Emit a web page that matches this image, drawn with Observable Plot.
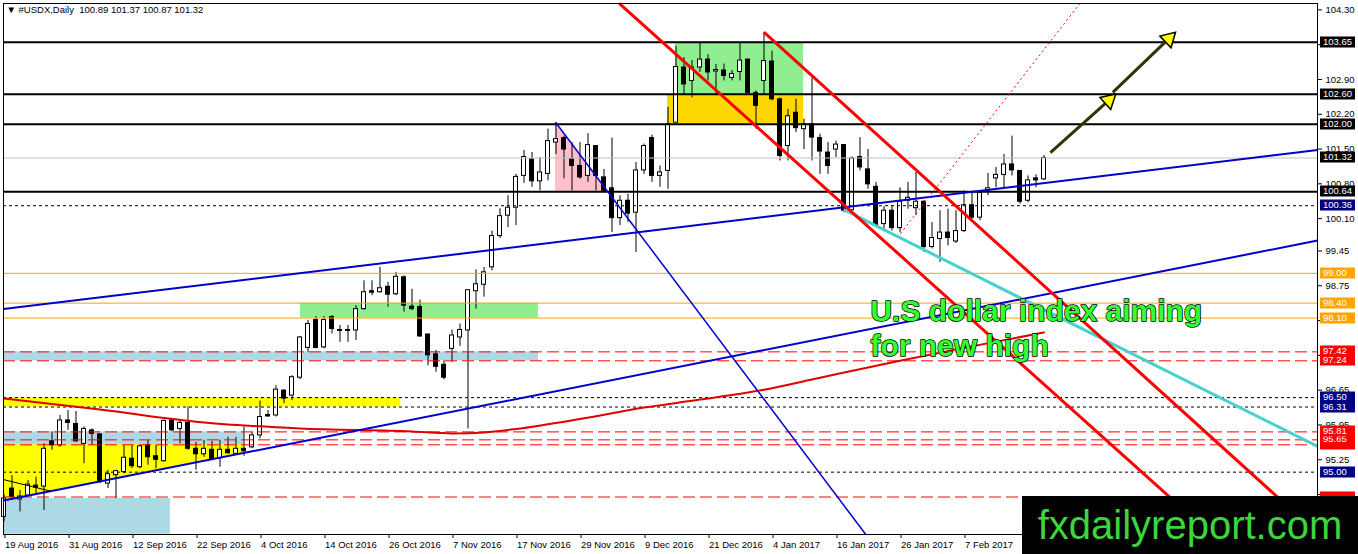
<!DOCTYPE html>
<html><head><meta charset="utf-8">
<script src="https://cdn.jsdelivr.net/npm/d3@7"></script>
<script src="https://cdn.jsdelivr.net/npm/@observablehq/plot@0.6"></script>
<style>
html,body{margin:0;padding:0;background:#fff;}
#wrap{position:relative;width:1358px;height:554px;overflow:hidden;background:#fff;}
#wm{position:absolute;left:1022px;top:496px;width:336px;height:58px;background:#000;color:#3cd63c;font:40px "Liberation Sans",Arial,sans-serif;line-height:58px;text-align:center;}
</style></head><body><div id="wrap"><div id="chart"></div><div id="wm">fxdailyreport.com</div></div>
<script>
// ---- candles (bar index 0 = 19 Aug 2016) ----
const opens = [94.10,94.67,94.45,94.53,94.73,94.71,95.62,95.54,96.04,95.97,95.57,95.84,95.76,94.77,94.94,95.00,95.27,95.10,95.54,95.32,95.22,96.04,95.87,95.99,95.47,95.36,95.45,95.28,95.45,95.37,95.47,95.50,95.74,96.15,96.14,96.64,96.54,96.90,97.50,98.06,97.51,98.12,97.86,97.84,97.85,98.28,98.64,98.62,98.73,98.58,98.92,98.33,98.32,97.77,97.37,97.16,97.48,97.71,97.85,98.64,98.77,99.12,99.75,100.16,100.32,100.96,101.29,100.85,101.00,101.63,101.72,101.29,101.16,100.96,101.56,100.93,100.71,100.11,100.46,100.22,101.07,101.72,100.96,101.06,102.03,103.14,102.87,103.14,103.30,103.06,103.08,102.93,103.05,103.30,102.63,102.87,103.26,102.50,101.56,102.23,101.90,102.00,101.72,101.43,101.49,101.58,100.27,101.34,101.09,100.74,99.99,100.26,99.91,100.46,100.31,100.44,99.53,99.69,99.82,99.64,99.85,100.37,100.12,100.66,100.91,100.98,101.19,101.06,100.46,100.91,100.89];
const highs = [94.55,94.93,94.63,94.83,94.90,95.57,95.81,96.14,96.24,96.22,95.91,95.87,95.77,95.04,95.04,95.54,95.54,95.54,95.64,95.54,96.05,96.05,96.05,96.31,95.60,95.64,95.62,95.64,95.70,95.70,95.91,95.80,96.43,96.24,96.74,96.66,96.94,97.73,98.05,98.13,98.13,98.15,97.95,97.95,98.35,98.85,98.85,99.12,98.82,99.02,98.95,98.68,98.46,97.77,97.45,97.24,97.86,97.98,98.66,99.07,99.12,99.85,100.30,100.56,100.99,101.47,101.43,101.33,101.90,102.03,101.76,101.63,101.63,101.81,101.56,101.09,101.72,100.56,100.59,101.23,101.60,101.78,101.16,102.34,103.57,103.34,103.28,103.64,103.40,103.20,103.21,103.08,103.62,103.30,102.67,103.84,103.47,102.53,102.30,102.50,102.10,102.93,101.80,101.63,101.66,101.58,101.34,101.73,101.49,100.83,100.34,100.36,100.72,100.83,101.03,100.46,100.02,100.26,100.29,100.26,100.66,100.62,100.66,101.01,101.13,101.39,101.76,101.06,100.96,100.98,101.37];
const lows = [94.00,94.43,94.20,94.50,94.57,94.23,95.44,95.50,95.84,95.60,95.17,95.54,94.77,94.67,94.47,94.97,95.07,95.07,95.14,95.07,95.20,95.81,95.57,95.44,95.04,95.30,95.24,95.10,95.36,95.34,95.32,95.47,95.67,96.11,96.11,96.38,96.44,96.86,97.41,97.48,97.48,97.78,97.61,97.61,97.65,98.26,98.55,98.60,98.32,98.55,98.22,98.25,97.71,97.14,97.01,96.86,97.21,97.53,95.87,98.28,98.52,99.05,99.70,99.92,99.96,100.81,100.73,100.66,100.86,101.39,100.90,100.66,100.89,100.83,100.66,100.62,99.82,99.96,100.02,99.42,100.99,100.83,100.73,100.69,102.03,102.60,102.53,103.04,102.87,102.60,102.87,102.87,102.87,102.60,101.90,102.60,102.47,101.26,101.26,101.83,101.49,101.26,100.99,100.99,101.33,100.22,100.26,101.06,100.69,99.92,99.85,99.85,99.82,100.29,100.16,99.42,99.49,99.22,99.55,99.60,99.82,100.09,100.06,100.56,100.72,100.72,100.96,100.39,100.42,100.72,100.87];
const closes = [94.47,94.50,94.51,94.75,94.69,95.47,95.54,96.04,95.99,95.62,95.87,95.77,94.80,94.96,95.02,95.29,95.12,95.52,95.30,95.25,96.03,95.84,95.99,95.47,95.36,95.47,95.25,95.45,95.38,95.47,95.42,95.74,96.11,96.12,96.66,96.48,96.91,97.71,97.98,97.50,98.06,97.88,97.84,97.86,98.28,98.62,98.61,98.70,98.57,98.93,98.35,98.28,97.73,97.35,97.12,96.90,97.75,97.86,98.66,98.78,99.02,99.75,100.15,100.32,100.94,101.34,100.85,101.03,101.66,101.70,101.49,101.16,100.93,101.58,100.96,100.66,100.11,100.46,100.20,101.07,101.56,100.96,101.03,102.00,103.15,102.80,103.14,103.30,103.04,103.09,102.97,103.01,103.28,102.63,102.37,103.27,102.50,101.36,102.16,101.92,102.00,101.73,101.45,101.16,101.59,100.26,101.31,101.13,100.79,99.96,100.26,99.91,100.44,100.52,100.44,99.53,99.71,99.82,99.71,99.85,100.37,100.12,100.62,100.71,100.98,101.19,101.07,100.44,100.87,100.87,101.32];

// ---- axis labels ----
const dateLabels = ["19 Aug 2016","31 Aug 2016","12 Sep 2016","22 Sep 2016","4 Oct 2016","14 Oct 2016","26 Oct 2016","7 Nov 2016","17 Nov 2016","29 Nov 2016","9 Dec 2016","21 Dec 2016","4 Jan 2017","16 Jan 2017","26 Jan 2017","7 Feb 2017"];
const dateLabelBars = [0,8,16,24,32,40,48,56,64,72,80,88,96,104,112,120];
const priceTicks = [104.30,103.60,102.90,102.20,101.50,100.80,100.10,99.45,98.75,98.05,97.35,96.65,95.95,95.25,94.55,93.85];
const priceTickLabels = ["104.30","","102.90","102.20","101.50","100.80","100.10","99.45","98.75","","","96.65","95.95","95.25","",""];

// ---- horizontal levels ----
const solidLevels = [103.65,102.60,102.00,100.64];
const bidLevel = [101.32];
const navyLevels = [100.36,96.50,96.31,95.00];
const orangeLevels = [99.00,98.40,98.10];
const redLevels = [97.42,97.24,95.81,95.65,95.55,94.50];
const hiddenLabels = [95.55,94.50];

// ---- moving average (read at sample bars) ----
const maBars = [0,12,25,37,51,56,60,64,72,80,87,95,102,112,120,130];
const maValues = [96.48,96.26,96.00,95.88,95.82,95.78,95.80,95.87,96.07,96.30,96.46,96.66,96.90,97.24,97.50,97.81];

// ---- drawn objects (bar index, price) ----
const zones = [
  {x1:-0.06,x2:20.8,y1:93.75,y2:94.47,fill:"#add8e6"},
  {x1:-0.06,x2:49.6,y1:96.31,y2:96.50,fill:"#ffff00"},
  {x1:-0.06,x2:29.98,y1:95.55,y2:95.81,fill:"#add8e6"},
  {x1:-0.06,x2:66.8,y1:97.24,y2:97.42,fill:"#add8e6"},
  {x1:37.06,x2:66.8,y1:98.10,y2:98.40,fill:"#90ee90"},
  {x1:83.94,x2:99.94,y1:102.60,y2:103.65,fill:"#90ee90"},
  {x1:82.94,x2:99.94,y1:102.00,y2:102.60,fill:"#ffd700"}
];
const yellowTri = [{i:-0.06,lo:94.43,hi:95.55},{i:29.98,lo:95.38,hi:95.55}];
const pinkTri = [{i:68.94,lo:100.64,hi:102.04},{i:75.4,lo:100.64,hi:100.64}];
const blueLines = [
  {x1:-0.06,y1:98.28,x2:164.19,y2:101.48,w:2},
  {x1:-0.06,y1:94.43,x2:164.19,y2:99.66,w:2},
  {x1:68.94,y1:102.04,x2:107.7,y2:93.75,w:1.5}
];
const redLines = [
  {x1:76.9,y1:104.43,x2:150.9,y2:93.75},
  {x1:94.98,y1:103.85,x2:164.19,y2:93.77}
];
const dottedLine = [{x1:112.06,y1:99.80,x2:134.5,y2:104.43}];
const cyanLine = [{x1:104.97,y1:100.28,x2:164.19,y2:95.52}];
const thinLines = [{x1:-0.06,y1:94.85,x2:5.8,y2:94.62}];
const arrows = [
  {x1:130.8,y1:101.43,x2:138.1,y2:102.48},
  {x1:138.6,y1:102.64,x2:145.6,y2:103.72}
];
const headline = [
  {i:108.3,v:98.05,t:"U.S dollar index aiming"},
  {i:108.3,v:97.33,t:"for new high"}
];

const bars = opens.map((o,i)=>({i,o,h:highs[i],l:lows[i],c:closes[i]}));
const lvl = (arr, extra) => arr.map(v=>({v,...extra}));
const labelBoxes = [
  ...lvl(redLevels,{bg:"#ff0000"}).sort((a,b)=>a.v-b.v),
  ...lvl(orangeLevels,{bg:"#ffa500"}),
  ...lvl(navyLevels,{bg:"#000080"}),
  ...lvl([...solidLevels,...bidLevel],{bg:"#000000"})
];
const FONT = "Liberation Sans, Arial, sans-serif";

const W = 1358, H = 554, mL = 3, mR = 41, mT = 3, mB = 20;
const xMin = -0.0625, xMax = xMin + (W - mL - mR) / 8;

function labelMark(index, scales, values, dims) {
  const g = d3.create("svg:g").attr("text-anchor", "start");
  const x0 = dims.width - dims.marginRight + 3;
  for (const d of labelBoxes) {
    const y = Math.round(scales.y(d.v));
    g.append("rect").attr("x", x0).attr("y", y - 5.5).attr("width", 35).attr("height", 11).attr("fill", d.bg);
    if (!hiddenLabels.includes(d.v))
      g.append("text").attr("x", x0 + 3).attr("y", y).attr("dy", "0.35em").attr("fill", "#fff")
        .attr("font-size", 9.5).attr("font-family", FONT).text(d.v.toFixed(2));
  }
  return g.node();
}

const arrowAngle = d => {
  const dx = (d.x2 - d.x1) * 8, dy = (d.y2 - d.y1) * 49.71;
  return Math.atan2(dx, dy) * 180 / Math.PI;
};

const chart = Plot.plot({
  width: W, height: H, marginLeft: mL, marginRight: mR, marginTop: mT, marginBottom: mB,
  style: {fontFamily: FONT, fontSize: "9.5px", background: "#fff", overflow: "visible"},
  x: {type: "linear", domain: [xMin, xMax], axis: null},
  y: {domain: [93.746, 104.428], axis: null},
  marks: [
    Plot.rect(zones, {x1:"x1", x2:"x2", y1:"y1", y2:"y2", fill:"fill"}),
    Plot.areaY(yellowTri, {x:"i", y1:"lo", y2:"hi", fill:"#ffff00"}),
    Plot.areaY(pinkTri, {x:"i", y1:"lo", y2:"hi", fill:"#ffc0cb"}),
    // candles
    Plot.ruleX(bars, {x:"i", y1:"l", y2:"h", stroke:"#000"}),
    Plot.rect(bars, {x1:d=>d.i-0.5, x2:d=>d.i+0.5, insetLeft:2, insetRight:2,
      y1:"o", y2:d=>Math.abs(d.c-d.o)<0.015 ? d.o+0.02 : d.c,
      fill:d=>d.c>=d.o ? "#fff" : "#000", stroke:"#000"}),
    // levels
    Plot.ruleY(solidLevels, {stroke:"#000", strokeWidth:2}),
    Plot.ruleY(bidLevel, {stroke:"#c0c0c0"}),
    Plot.ruleY(navyLevels, {stroke:"#000", strokeDasharray:"3,3"}),
    Plot.ruleY(orangeLevels, {stroke:"#ffa500"}),
    Plot.ruleY(redLevels, {stroke:"#ff0000", strokeDasharray:"12,5"}),
    // MA
    Plot.line(maBars.map((b,k)=>({i:b,v:maValues[k]})), {x:"i", y:"v", stroke:"#e00000", strokeWidth:2, curve:"monotone-x"}),
    // trend lines
    Plot.link(blueLines, {x1:"x1", y1:"y1", x2:"x2", y2:"y2", stroke:"#0000cc", strokeWidth:"w"}),
    Plot.link(cyanLine, {x1:"x1", y1:"y1", x2:"x2", y2:"y2", stroke:"#48d1cc", strokeWidth:3}),
    Plot.link(redLines, {x1:"x1", y1:"y1", x2:"x2", y2:"y2", stroke:"#ff0000", strokeWidth:3}),
    Plot.link(dottedLine, {x1:"x1", y1:"y1", x2:"x2", y2:"y2", stroke:"#ff0000", strokeDasharray:"2,3"}),
    Plot.link(thinLines, {x1:"x1", y1:"y1", x2:"x2", y2:"y2", stroke:"#000"}),
    // arrows
    Plot.link(arrows, {x1:"x1", y1:"y1", x2:"x2", y2:"y2", stroke:"#333300", strokeWidth:3}),
    Plot.dot(arrows, {x:"x2", y:"y2", symbol:"triangle", r:6, rotate:arrowAngle, fill:"#ffff00", stroke:"#000"}),
    // headline
    Plot.text(headline, {x:"i", y:"v", text:"t", textAnchor:"start", lineAnchor:"bottom",
      fontSize:30, fontWeight:"bold", fontFamily:FONT, fill:"#33ff33", stroke:"#000", strokeWidth:1.5}),
    // axes
    Plot.frame({stroke:"#000"}),
    Plot.axisY({anchor:"right", ticks:priceTicks, tickFormat:d=>priceTickLabels[priceTicks.indexOf(d)], tickSize:4, tickPadding:4, fontSize:9.5}),
    Plot.axisX({anchor:"bottom", ticks:dateLabelBars, tickFormat:(d)=>dateLabels[dateLabelBars.indexOf(d)], tickSize:4, tickPadding:3, textAnchor:"start", dx:1, fontSize:9.5}),
    labelMark,
    Plot.text(["\u25BC #USDX,Daily  100.89 101.37 100.87 101.32"], {frameAnchor:"top-left", dx:3, dy:3, fontSize:9.5, fill:"#000"})
  ]
});
document.getElementById("chart").appendChild(chart);
</script>
</body></html>
